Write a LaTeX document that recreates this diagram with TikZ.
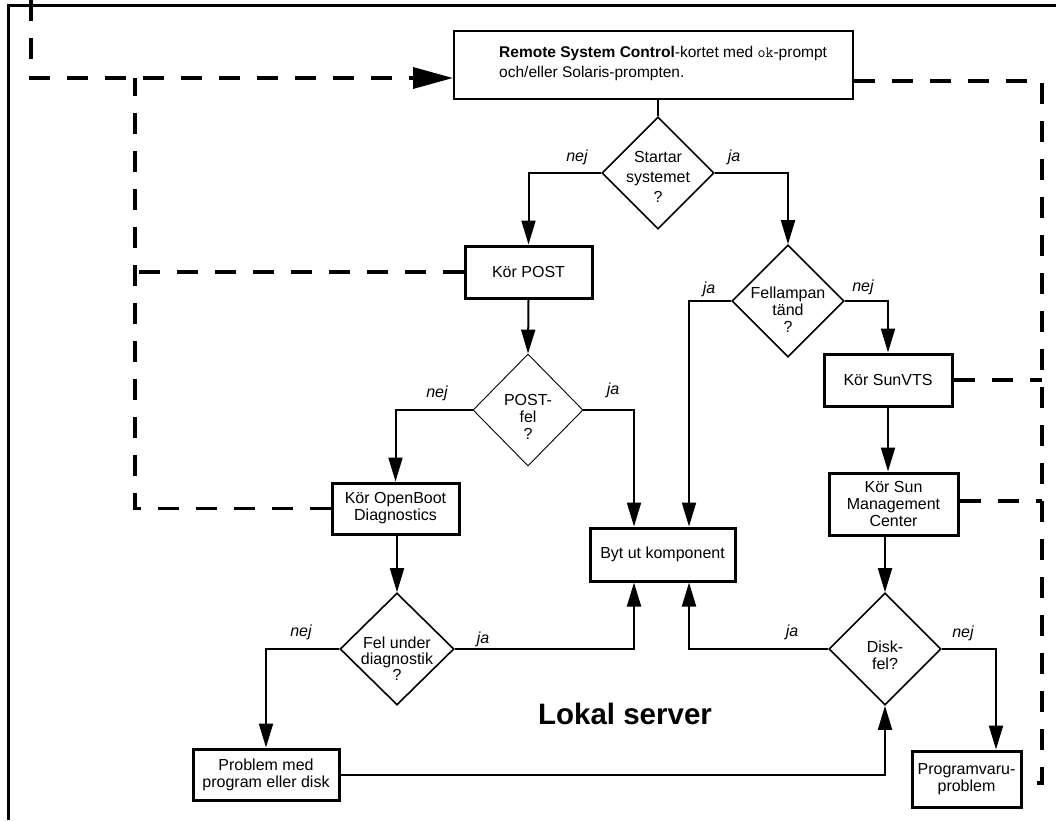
\documentclass[tikz,border=0pt]{standalone}
\usepackage{fontspec}
\setmainfont{Liberation Sans}
\usetikzlibrary{shapes.geometric,arrows.meta,calc}
\newcommand{\fsz}{\fontsize{16}{17}\selectfont}
\newcommand{\fszr}{\fontsize{15.5}{20}\selectfont}
\begin{document}
\begin{tikzpicture}[x=1pt,y=-1pt,
  box/.style={draw, line width=3pt, inner sep=0pt, align=center, font=\fsz},
  dia/.style={draw, diamond, line width=1.6pt, minimum width=112pt, minimum height=112pt, inner sep=0pt},
  dtext/.style={align=center, font=\fsz, inner sep=0pt},
  flow/.style={line width=2pt, -{Triangle[length=24pt,width=14pt]}},
  plain/.style={line width=2pt},
  dashline/.style={line width=3.5pt, dash pattern=on 21pt off 17pt},
  lab/.style={font=\fontsize{16}{17}\selectfont\itshape, inner sep=0pt},
  frame/.style={line width=3pt}
]
\useasboundingbox (0,0) rectangle (1056,820);

% outer frame
\coordinate (ftl) at (8,5);
\coordinate (ftr) at (1056,5);
\coordinate (fbl) at (8,820);
\draw[frame] (ftr) -- (ftl) -- (fbl);

% boxes
\node[box, line width=2pt, minimum width=399pt, minimum height=68pt,
  label={[anchor=west, xshift=46pt, yshift=2pt, align=left, font=\fszr, inner sep=0pt]west:{\textbf{Remote System Control}-kortet med \texttt{ok}-prompt\\och/eller Solaris-prompten.}}]
  (remote) at (653.5,65) {};
\node[box, minimum width=127pt, minimum height=52pt] (post) at (528.5,272) {Kör POST};
\node[box, minimum width=127pt, minimum height=51pt] (obd) at (395.5,508.5) {Kör OpenBoot\\Diagnostics};
\node[box, minimum width=145pt, minimum height=53pt] (byt) at (662.5,554.5) {Byt ut komponent};
\node[box, minimum width=128pt, minimum height=52pt] (vts) at (888,380) {Kör SunVTS};
\node[box, minimum width=129pt, minimum height=62pt] (smc) at (893.5,504) {Kör Sun\\Management\\Center};
\node[box, minimum width=146pt, minimum height=51pt] (prob) at (266,774.5) {Problem med\\program eller disk};
\node[box, minimum width=109pt, minimum height=56pt] (sw) at (966.5,779) {Programvaru-\\problem};

% diamonds
\node[dia, label={[dtext, font=\fontsize{16}{20}\selectfont, yshift=-4pt]center:Startar\\systemet\\?}] (start) at (658,173) {};
\node[dia, label={[dtext, yshift=-9pt]center:Fellampan\\tänd\\?}] (lamp) at (788,301) {};
\node[dia, line width=0.9pt, minimum width=110pt, label={[dtext, yshift=-7pt]center:POST-\\fel\\?}] (postfel) at (528,410) {};
\node[dia, minimum width=114pt, label={[dtext, font=\fontsize{16}{16}\selectfont, yshift=-10pt]center:Fel under\\diagnostik\\?}] (felu) at (397,649) {};
\node[dia, label={[dtext, yshift=-6pt]center:Disk-\\fel?}] (disk) at (885,649) {};

% title
\node[font=\fontsize{29.5}{31}\selectfont\bfseries, inner sep=0pt] (lokal) at (625,714) {Lokal server};

% solid connectors
\draw[plain] (start.north |- remote.south) -- (start.north);
\draw[flow] (start.west) -| (post.north);
\draw[flow] (start.east) -| (lamp.north);
\draw[flow] (post.south) -- (postfel.north);
\draw[flow] (postfel.west) -| (obd.north);
\draw[flow] (postfel.east) -| ([xshift=-28.5pt]byt.north);
\draw[flow] (lamp.west) -| ([xshift=26.5pt]byt.north);
\draw[flow] (lamp.east) -| (vts.north);
\draw[flow] (vts.south) -- (vts.south |- smc.north);
\draw[flow] (felu.north |- obd.south) -- (felu.north);
\draw[flow] (disk.north |- smc.south) -- (disk.north);
\draw[flow] (felu.west) -| (prob.north);
\draw[flow] (felu.east) -| ([xshift=-28.5pt]byt.south);
\draw[flow] (disk.west) -| ([xshift=26.5pt]byt.south);
\draw[flow] (disk.east) -| ([xshift=29.5pt]sw.north);
\draw[flow] (prob.east) -| (disk.south);

% labels
\node[lab] (l1) at (577,157) {nej};
\node[lab] (l2) at (734,157) {ja};
\node[lab] (l3) at (709,289) {ja};
\node[lab] (l4) at (863,287) {nej};
\node[lab] (l5) at (437,393) {nej};
\node[lab] (l6) at (613,390) {ja};
\node[lab] (l7) at (301,632) {nej};
\node[lab] (l8) at (483,639) {ja};
\node[lab] (l9) at (792,632) {ja};
\node[lab] (l10) at (963,633) {nej};

% dashed feedback lines, left
\coordinate (topin) at (31,0);
\coordinate (lc1) at (31,78);
\coordinate (lc2) at (135,78);
\draw[dashline, -{Triangle[length=40pt,width=21pt]}] (topin) -- (lc1) -- (lc1 -| remote.west);
\draw[dashline] (obd.west) -| (lc2);
\draw[dashline] (post.west) -- (post.west -| lc2);

% dashed feedback lines, right
\coordinate (rc1) at (1042,81);
\coordinate (rc2) at (1042,783);
\draw[dashline] (rc1 -| remote.east) -- (rc1) -- (rc2) -- (rc2 -| sw.east);
\draw[dashline] (vts.east) -- (vts.east -| rc1);
\draw[dashline] ([yshift=3pt]smc.east) -- ([yshift=3pt]smc.east -| rc1);
\end{tikzpicture}
\end{document}
